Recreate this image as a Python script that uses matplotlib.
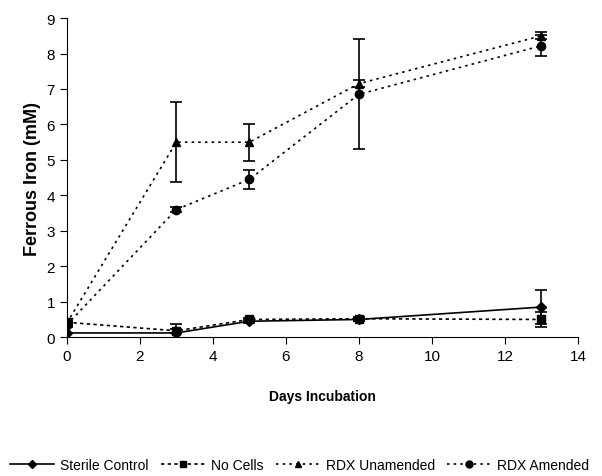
import matplotlib
matplotlib.use('Agg')
import matplotlib.pyplot as plt
from matplotlib.lines import Line2D

plt.rcParams['font.family'] = ['Liberation Sans', 'DejaVu Sans']

days = [0, 3, 5, 8, 13]
sterile = [0.12, 0.12, 0.45, 0.5, 0.85]
sterile_err = [0.2, 0.25, 0.05, 0.05, 0.48]
no_cells = [0.42, 0.18, 0.5, 0.52, 0.5]
no_cells_err = [0.05, 0.05, 0.05, 0.05, 0.2]
rdx_unam = [0.4, 5.5, 5.5, 7.15, 8.5]
rdx_unam_err = [0.05, 1.12, 0.52, 0.1, 0.1]
rdx_am = [0.35, 3.6, 4.45, 6.85, 8.22]
rdx_am_err = [0.05, 0.08, 0.26, 1.55, 0.3]
labels = ['Sterile Control', 'No Cells', 'RDX Unamended', 'RDX Amended']

fig = plt.figure(figsize=(6.02, 4.77), dpi=100)
ax = fig.add_axes([0.111, 0.291, 0.849, 0.669])
series = [(sterile, sterile_err, 'D', '-', 5),
          (no_cells, no_cells_err, 's', (0, (2, 2)), 6),
          (rdx_unam, rdx_unam_err, '^', (0, (1.5, 2.5)), 6),
          (rdx_am, rdx_am_err, 'o', (0, (1.5, 2.5)), 6)]
handles = []
for (vals, err, m, ls, ms), lab in zip(series, labels):
    ax.errorbar(days, vals, yerr=err, marker=m, ls=ls, color='black', ecolor='black',
                elinewidth=1.2, capsize=4, capthick=1.2, markersize=ms, lw=1.2)
    handles.append(Line2D([], [], color='black', marker=m, ls=ls, lw=1.2, markersize=ms - 1))

ax.set_xlim(0, 14)
ax.set_ylim(0, 9)
ax.set_xticks(range(0, 15, 2))
ax.set_yticks(range(0, 10))
ax.spines['top'].set_visible(False)
ax.spines['right'].set_visible(False)
ax.tick_params(labelsize=11, direction='out', length=5)
ax.set_xlabel('Days Incubation', fontsize=10, fontweight='bold', labelpad=19)
ax.set_ylabel('Ferrous Iron (mM)', fontsize=13, fontweight='bold', labelpad=4)
ax.legend(handles, labels, loc='center', bbox_to_anchor=(0.455, -0.40), ncol=4, frameon=False,
          fontsize=10, handlelength=3.2, columnspacing=0.9, handletextpad=0.4)
fig.savefig('out.png', dpi=100)
